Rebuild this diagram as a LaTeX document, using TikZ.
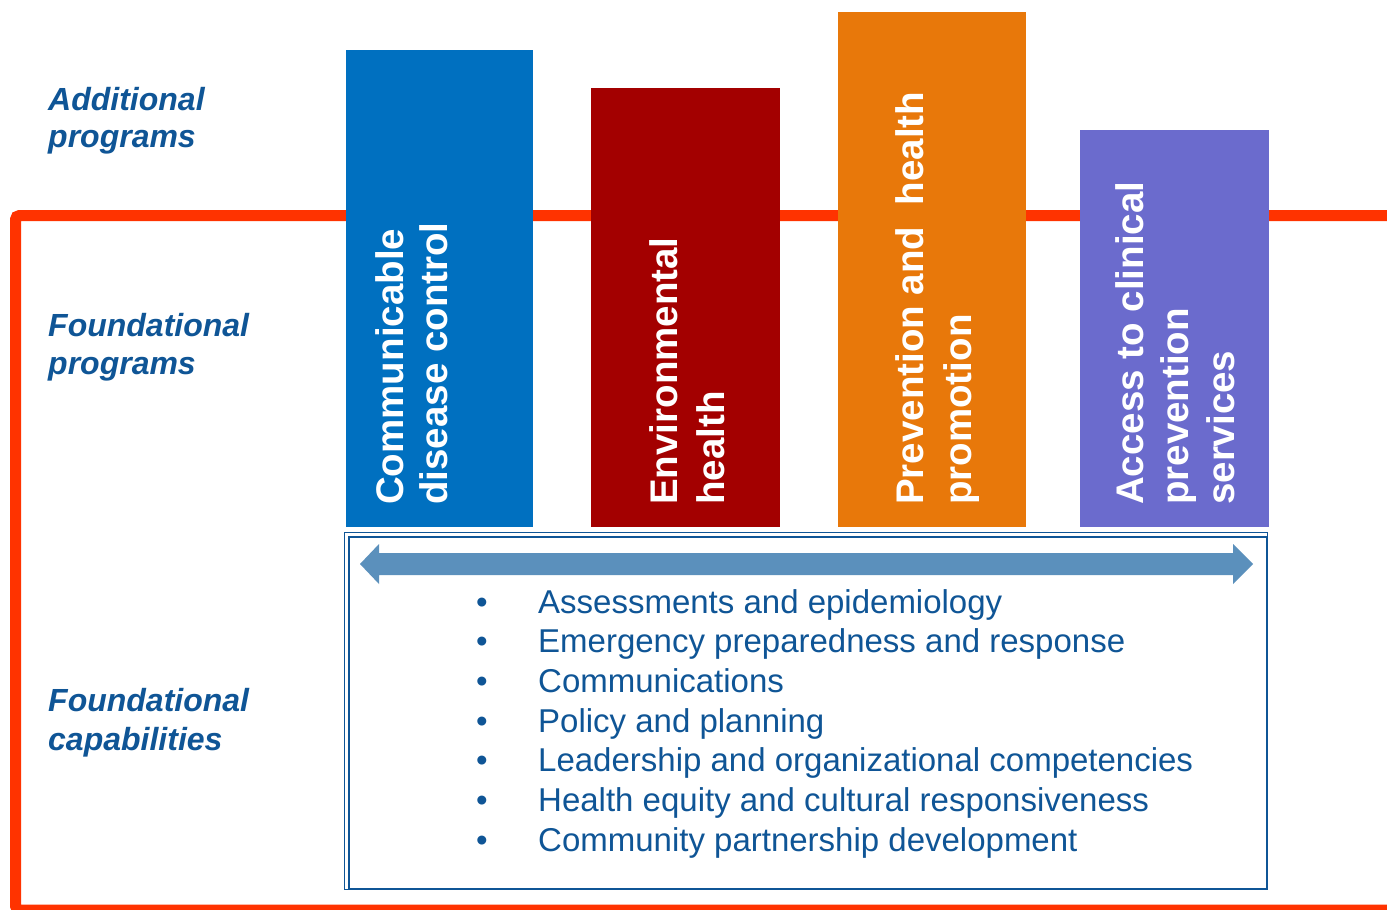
\documentclass[tikz,border=0pt]{standalone}
\usepackage{fontspec}
\setmainfont{Liberation Sans}
\definecolor{redc}{HTML}{FF3300}
\definecolor{blueb}{HTML}{0070C0}
\definecolor{darkr}{HTML}{A30000}
\definecolor{orng}{HTML}{E8780A}
\definecolor{purp}{HTML}{6B6BCD}
\definecolor{navy}{HTML}{0F5596}
\definecolor{arrowc}{HTML}{5B90BC}
\begin{document}
\begin{tikzpicture}[x=1pt,y=-1pt,
  lbl/.style={anchor=base west,inner sep=0pt,text=navy,font=\fontsize{32}{36}\selectfont\bfseries\itshape},
  bartext/.style={anchor=base west,inner sep=0pt,rotate=90,text=white,font=\fontsize{38.5}{44}\selectfont\bfseries},
  item/.style={anchor=base west,inner sep=0pt,text=navy,font=\fontsize{33}{38}\selectfont},
  bul/.style={anchor=base,inner sep=0pt,text=navy,font=\fontsize{33}{38}\selectfont}]
\useasboundingbox (0,0) rectangle (1387,910);
\fill[white] (0,0) rectangle (1387,910);
% red frame
\draw[redc,line width=11pt,rounded corners=4pt] (1400,215.5) -- (15.5,215.5) -- (15.5,910) -- (1400,910);
% bars
\fill[blueb] (346,50) rectangle (533,527);
\fill[darkr] (591,88) rectangle (780,527);
\fill[orng] (838,12) rectangle (1026,527);
\fill[purp] (1080,130) rectangle (1269,527);
% bar texts
\node[bartext] (b1a) at (403,505) {Communicable};
\node[bartext] (b1b) at (447,505) {disease control};
\node[bartext] (b2a) at (677,505) {Environmental};
\node[bartext] (b2b) at (724,505) {health};
\node[bartext] (b3a) at (923,505) {Prevention and\ \ health};
\node[bartext] (b3b) at (971,505) {promotion};
\node[bartext] (b4a) at (1143,505) {Access to clinical};
\node[bartext] (b4b) at (1188,505) {prevention};
\node[bartext] (b4c) at (1234,505) {services};
% left labels
\node[lbl] (l1a) at (48,110) {Additional};
\node[lbl] (l1b) at (48,147) {programs};
\node[lbl] (l2a) at (48,336) {Foundational};
\node[lbl] (l2b) at (48,374) {programs};
\node[lbl] (l3a) at (48,711) {Foundational};
\node[lbl] (l3b) at (48,750) {capabilities};
% capabilities box
\draw[navy,line width=1.3pt] (344.5,532.5) rectangle (1267.5,889.5);
\draw[navy,line width=2pt] (348.5,536.5) rectangle (1266.5,888.5);
% double arrow
\fill[arrowc] (360,564) -- (379,544) -- (379,553) -- (1233,553) -- (1233,544) -- (1253,564)
  -- (1233,584) -- (1233,575) -- (379,575) -- (379,584) -- cycle;
% list
\foreach \t [count=\i] in {Assessments and epidemiology,Emergency preparedness and response,Communications,Policy and planning,Leadership and organizational competencies,Health equity and cultural responsiveness,Community partnership development}{
  \node[bul] (bu\i) at (482,{613+39.7*(\i-1)}) {\textbullet};
  \node[item] (it\i) at (538,{613+39.7*(\i-1)}) {\t};
}
\end{tikzpicture}
\end{document}
